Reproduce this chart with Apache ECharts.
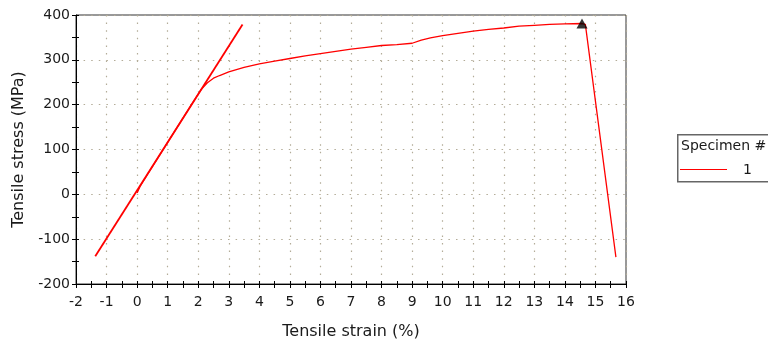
<!DOCTYPE html>
<html>
<head>
<meta charset="utf-8">
<script src="https://cdn.jsdelivr.net/npm/echarts@6/dist/echarts.min.js"></script>
<style>
  html, body { margin: 0; padding: 0; background: #fff; }
  #chart { width: 768px; height: 345px; }
</style>
</head>
<body>
<div id="chart"></div>
<script>
// tensile test, specimen 1
const strain = [0, 0.1, 0.5, 1.0, 1.5, 1.9, 2.1, 2.3, 2.5, 2.7, 3.0, 3.5, 4.0, 4.5, 5.0, 5.5, 6.0, 6.5, 7.0, 7.5, 8.0, 8.5, 9.0, 9.3, 9.6, 10.0, 10.5, 11.0, 11.5, 12.0, 12.5, 13.0, 13.5, 14.0, 14.56, 14.67, 15.67];
const stress = [3, 18, 62, 116, 170, 213, 234, 249, 259, 265, 273, 283, 291, 297, 303, 309, 314, 319, 324, 328, 332, 334, 337, 344, 349, 354, 359, 364, 368, 371, 375, 377, 379, 380, 381, 379, -140];

// offset (modulus) line
const offsetStrain = [-1.37, 3.45];
const offsetStress = [-138, 379];

// break point marker
const peakStrain = [14.56];
const peakStress = [381];

const xTicks = { min: -2, max: 16, interval: 1 };
const yTicks = { min: -200, max: 400, interval: 100 };

const specimenName = '1';

const zip = (a, b) => a.map((v, i) => [v, b[i]]);

const chart = echarts.init(document.getElementById('chart'));
const font = 'DejaVu Sans';
const gridDots = { color: '#b3ac98', width: 1.2, type: [1.5, 6.1] };

chart.setOption({
  animation: false,
  textStyle: { fontFamily: font },
  grid: { left: 76, right: 142, top: 15, bottom: 61, show: true, borderColor: '#333', borderWidth: 1 },
  xAxis: [
    {
      type: 'value', min: xTicks.min, max: xTicks.max, interval: xTicks.interval,
      name: 'Tensile strain (%)', nameLocation: 'middle', nameGap: 40,
      nameTextStyle: { fontSize: 16, color: '#1a1a1a' },
      axisLine: { show: true, onZero: false, lineStyle: { color: '#000', width: 1 } },
      axisTick: { show: true, length: 4, lineStyle: { color: '#000' } },
      minorTick: { show: true, splitNumber: 2, length: 4, lineStyle: { color: '#000' } },
      axisLabel: { fontSize: 14, color: '#1a1a1a', margin: 11 },
      splitLine: { show: true, lineStyle: gridDots }
    },
    {
      type: 'value', min: xTicks.min, max: xTicks.max, interval: xTicks.interval,
      position: 'bottom', offset: 0,
      axisLine: { show: false, onZero: false },
      axisTick: { show: true, inside: true, length: 3, lineStyle: { color: '#000' } },
      minorTick: { show: true, splitNumber: 2, length: 3, lineStyle: { color: '#000' } },
      axisLabel: { show: false },
      splitLine: { show: false }
    }
  ],
  yAxis: [
    {
      type: 'value', min: yTicks.min, max: yTicks.max, interval: yTicks.interval,
      name: 'Tensile stress (MPa)', nameLocation: 'middle', nameGap: 44,
      nameTextStyle: { fontSize: 16, color: '#1a1a1a' },
      axisLine: { show: true, onZero: false, lineStyle: { color: '#000', width: 1 } },
      axisTick: { show: true, length: 4, lineStyle: { color: '#000' } },
      minorTick: { show: true, splitNumber: 2, length: 4, lineStyle: { color: '#000' } },
      axisLabel: { fontSize: 14, color: '#1a1a1a', margin: 6 },
      splitLine: { show: true, lineStyle: gridDots }
    },
    {
      type: 'value', min: yTicks.min, max: yTicks.max, interval: yTicks.interval,
      position: 'left', offset: 0,
      axisLine: { show: false, onZero: false },
      axisTick: { show: true, inside: true, length: 3, lineStyle: { color: '#000' } },
      minorTick: { show: true, splitNumber: 2, length: 3, lineStyle: { color: '#000' } },
      axisLabel: { show: false },
      splitLine: { show: false }
    }
  ],
  series: [
    {
      name: specimenName, type: 'line', data: zip(strain, stress),
      symbol: 'none', lineStyle: { color: '#ff0000', width: 1.3 }, z: 3
    },
    {
      name: 'offset', type: 'line', data: zip(offsetStrain, offsetStress),
      symbol: 'none', lineStyle: { color: '#ff0000', width: 1.8 }, z: 3
    },
    {
      name: 'break', type: 'scatter', data: zip(peakStrain, peakStress),
      symbol: 'triangle', symbolSize: [11, 10], itemStyle: { color: '#000' }, z: 4
    }
  ],
  graphic: [
    {
      type: 'rect', left: 677, top: 134,
      shape: { width: 100, height: 47 },
      style: { fill: '#fff', stroke: '#666', lineWidth: 1.5 }
    },
    {
      type: 'text', left: 681, top: 139,
      style: { text: 'Specimen #', font: '14px "DejaVu Sans"', fill: '#1a1a1a' }
    },
    {
      type: 'line',
      shape: { x1: 680, y1: 169.5, x2: 727, y2: 169.5 },
      style: { stroke: '#ff0000', lineWidth: 1 }
    },
    {
      type: 'text', left: 743, top: 163,
      style: { text: specimenName, font: '14px "DejaVu Sans"', fill: '#1a1a1a' }
    }
  ]
});
</script>
</body>
</html>
